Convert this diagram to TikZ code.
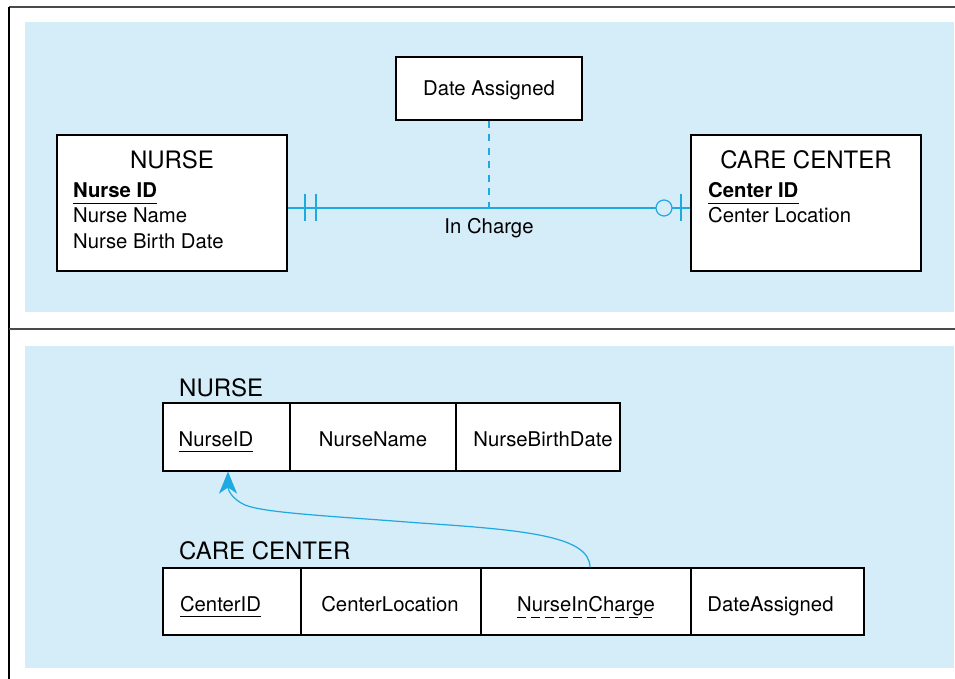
\documentclass[tikz,border=0pt]{standalone}
\usepackage{fontspec}
\setmainfont{TeX Gyre Heros}
\usetikzlibrary{arrows.meta,calc}
\definecolor{panel}{HTML}{D5ECF9}
\definecolor{relc}{HTML}{1FA9E1}
\definecolor{framec}{HTML}{4A4A4A}
\begin{document}
\begin{tikzpicture}[x=1pt,y=-1pt,
  body/.style={font=\fontsize{20.3}{24}\selectfont, inner sep=0pt},
  title/.style={font=\fontsize{24}{28}\selectfont, inner sep=0pt},
  entity/.style={draw=black, line width=1.1pt, fill=white, inner sep=0pt},
  cell/.style={draw=black, line width=1.1pt, fill=white, inner sep=0pt},
  relline/.style={draw=relc, line width=1.2pt},
  frameline/.style={line width=1.6pt}
]
\useasboundingbox (0,0) rectangle (955,679);
% panels
\fill[panel] (25,22) rectangle (954,312);
\fill[panel] (25,346) rectangle (954,668);
% frame
\draw[frameline, draw=framec] (9,7) -- (955,7);
\draw[frameline, draw=black] (9,7) -- (9,679);
\draw[frameline, draw=framec] (9,329) -- (955,329);

% ---------- top: E-R diagram ----------
\node[entity, minimum width=186pt, minimum height=63pt] (da) at (489,88.5) {};
\node[body, anchor=base] (dat) at (489,95.5) {Date Assigned};

\node[entity, minimum width=230pt, minimum height=136pt] (nurse) at (172,203) {};
\node[title, anchor=base] (nurset) at (172,169) {NURSE};
\node[body, anchor=base west, font=\fontsize{20.3}{24}\selectfont\bfseries] (nid1) at (73,197) {Nurse ID};
\node[body, anchor=base west] (nname1) at (73,222.5) {Nurse Name};
\node[body, anchor=base west] (nbd1) at (73,248.5) {Nurse Birth Date};
\draw[line width=1pt] ([yshift=-6pt]nid1.base west) -- ([yshift=-6pt]nid1.base east);

\node[entity, minimum width=230pt, minimum height=136pt] (cc) at (806,203) {};
\node[title, anchor=base] (cct) at (806,169) {CARE CENTER};
\node[body, anchor=base west, font=\fontsize{20.3}{24}\selectfont\bfseries] (cid1) at (708,197) {Center ID};
\node[body, anchor=base west] (cloc1) at (708,222.5) {Center Location};
\draw[line width=1pt] ([yshift=-6pt]cid1.base west) -- ([yshift=-6pt]cid1.base east);

\coordinate (jn) at (489,208);
\draw[relline] (jn -| nurse.east) -- (jn -| cc.west);
\draw[relline, dash pattern=on 7pt off 6.5pt] (da.south) -- (jn);
\node[body, anchor=base] (incharge) at (489,233) {In Charge};
% mandatory one (NURSE side)
\draw[relline] (305,194) -- (305,221);
\draw[relline] (316,194) -- (316,221);
% optional one (CARE CENTER side)
\draw[relline, fill=panel] (664,208) circle (8pt);
\draw[relline] (681,194) -- (681,221);

% ---------- bottom: relations ----------
\node[title, anchor=base west] (nrel) at (179,396) {NURSE};
\node[cell, minimum width=127pt, minimum height=68pt] (nid) at (226.5,437) {};
\node[cell, minimum width=166pt, minimum height=68pt] (nname) at (373,437) {};
\node[cell, minimum width=164pt, minimum height=68pt] (nbd) at (538,437) {};
\node[body, anchor=base] (nidt) at (216,446) {NurseID};
\node[body, anchor=base] (nnamet) at (373,446) {NurseName};
\node[body, anchor=base] (nbdt) at (543,446) {NurseBirthDate};
\draw[line width=1pt] ([yshift=-5.5pt]nidt.base west) -- ([yshift=-5.5pt]nidt.base east);

\node[title, anchor=base west] (ccrel) at (179,559) {CARE CENTER};
\node[cell, minimum width=138pt, minimum height=67pt] (cid) at (232,601.5) {};
\node[cell, minimum width=180pt, minimum height=67pt] (cloc) at (391,601.5) {};
\node[cell, minimum width=210pt, minimum height=67pt] (nic) at (586,601.5) {};
\node[cell, minimum width=173pt, minimum height=67pt] (dass) at (777.5,601.5) {};
\node[body, anchor=base] (cidt) at (220.5,611) {CenterID};
\node[body, anchor=base] (clodt) at (390,611) {CenterLocation};
\node[body, anchor=base] (nict) at (586,611) {NurseInCharge};
\node[body, anchor=base] (dasst) at (770.5,611) {DateAssigned};
\draw[line width=1pt] ([yshift=-5.5pt]cidt.base west) -- ([yshift=-5.5pt]cidt.base east);
\draw[line width=1pt, dash pattern=on 9pt off 5pt] ([yshift=-6.5pt]nict.base west) -- ([yshift=-6.5pt]nict.base east);

\draw[relline, -{Stealth[length=22pt,width=18pt,inset=6pt]}] ([xshift=4pt]nic.north)
  .. controls (590,536) and (525,530) .. (420,523)
  .. controls (330,516) and (265,513) .. (245,505)
  .. controls (232,499) and (228,490) .. ([xshift=1.5pt]nid.south);
\end{tikzpicture}
\end{document}
